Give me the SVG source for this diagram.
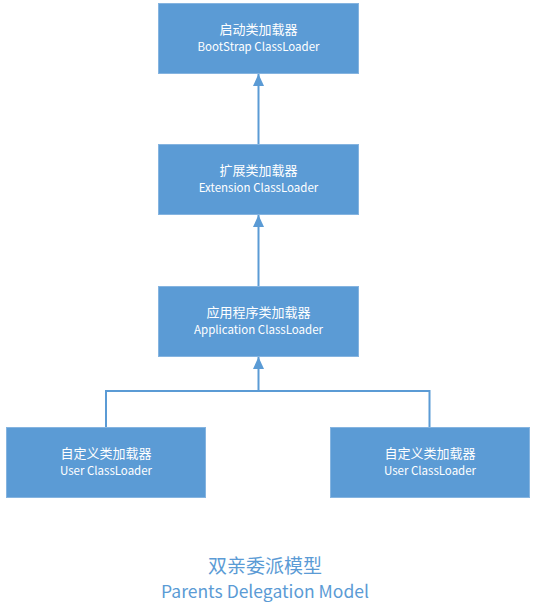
<svg xmlns="http://www.w3.org/2000/svg" width="537" height="614" viewBox="0 0 537 614">
<style>
.box{fill:#5b9bd5;stroke:#85b4e0;stroke-width:1}
.cn{font-family:"Noto Sans CJK SC","Noto Sans",sans-serif;font-size:13px;fill:#ffffff;text-anchor:middle}
.en{font-family:"Noto Sans CJK SC","Noto Sans",sans-serif;font-size:11.5px;fill:#ffffff;text-anchor:middle}
.line{fill:none;stroke:#5b9bd5;stroke-width:2}
.tcn{font-family:"Noto Sans CJK SC",sans-serif;font-size:19px;fill:#5b9bd5;text-anchor:middle}
.ten{font-family:"Noto Sans CJK SC","Noto Sans",sans-serif;font-size:17.5px;fill:#5b9bd5;text-anchor:middle}
</style>
<defs>
<marker id="arr" markerWidth="12" markerHeight="11" refX="12" refY="5.5" orient="auto" markerUnits="userSpaceOnUse" viewBox="0 0 12 11">
<path d="M0,0 L12,5.5 L0,11 Z" fill="#5b9bd5"/>
</marker>
</defs>
<rect width="537" height="614" fill="#ffffff"/>
<g id="connectors">
<line class="line" x1="258.5" y1="144" x2="258.5" y2="74" marker-end="url(#arr)"/>
<line class="line" x1="258.5" y1="286" x2="258.5" y2="215" marker-end="url(#arr)"/>
<line class="line" x1="258.5" y1="391" x2="258.5" y2="357" marker-end="url(#arr)"/>
<polyline class="line" points="106,427 106,391 429.5,391 429.5,427"/>
</g>
<g id="bootstrap">
<rect class="box" x="158.5" y="3.5" width="200" height="70"/>
<text class="cn" x="258.5" y="34">启动类加载器</text>
<text class="en" x="258.5" y="51">BootStrap ClassLoader</text>
</g>
<g id="extension">
<rect class="box" x="158.5" y="144.5" width="200" height="70"/>
<text class="cn" x="258.5" y="175">扩展类加载器</text>
<text class="en" x="258.5" y="192">Extension ClassLoader</text>
</g>
<g id="application">
<rect class="box" x="158.5" y="286.5" width="200" height="70"/>
<text class="cn" x="258.5" y="317">应用程序类加载器</text>
<text class="en" x="258.5" y="334">Application ClassLoader</text>
</g>
<g id="user1">
<rect class="box" x="6.5" y="427.5" width="199" height="70"/>
<text class="cn" x="106" y="458">自定义类加载器</text>
<text class="en" x="106" y="475">User ClassLoader</text>
</g>
<g id="user2">
<rect class="box" x="330.5" y="427.5" width="199" height="70"/>
<text class="cn" x="430" y="458">自定义类加载器</text>
<text class="en" x="430" y="475">User ClassLoader</text>
</g>
<g id="title">
<text class="tcn" x="265" y="573">双亲委派模型</text>
<text class="ten" x="265" y="598">Parents Delegation Model</text>
</g>
</svg>
